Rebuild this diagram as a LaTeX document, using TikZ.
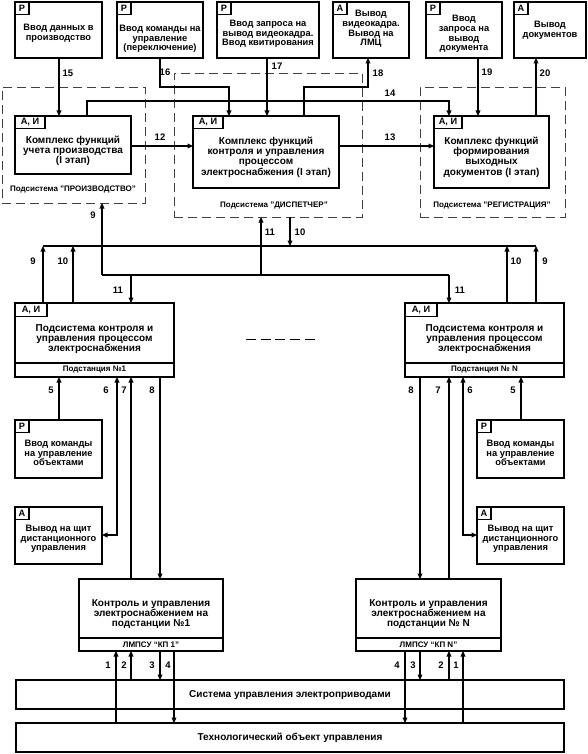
\documentclass[tikz,border=0pt]{standalone}
\usepackage{fontspec}
\setmainfont{Liberation Sans}
\usetikzlibrary{arrows.meta}
\tikzset{
 bx/.style={draw, line width=1.1pt, anchor=north west, inner sep=0pt, outer sep=0pt},
 tg/.style={draw, line width=1.1pt, anchor=north west, inner sep=0pt, outer sep=0pt, minimum height=12.5pt, font=\bfseries\fontsize{9.2}{9.2}\selectfont},
 ttx/.style={align=center, inner sep=0pt, font=\bfseries\fontsize{9.3}{9.6}\selectfont},
 mtx/.style={align=center, inner sep=0pt, font=\bfseries\fontsize{10}{10.3}\selectfont},
 stx/.style={inner sep=0pt, font=\bfseries\fontsize{8}{8}\selectfont},
 num/.style={inner sep=0pt, font=\bfseries\fontsize{9.5}{9.5}\selectfont},
 ln/.style={line width=1.05pt},
 arr/.style={line width=1.05pt, -{Triangle[length=5.5pt,width=4.8pt]}},
 darr/.style={line width=1.05pt, {Triangle[length=5.5pt,width=4.8pt]}-{Triangle[length=5.5pt,width=4.8pt]}},
 dbx/.style={draw, black!75, line width=0.9pt, dash pattern=on 9pt off 5pt, anchor=north west, inner sep=0pt, outer sep=0pt},
}
\newcommand\mkbox[5]{\node[bx, minimum width=#4pt, minimum height=#5pt] (#1) at (#2,#3) {};}
\begin{document}
\begin{tikzpicture}[x=1pt,y=-1pt]
\useasboundingbox (0,0) rectangle (588,754);
% dashed subsystem frames
\node[dbx, minimum width=143pt, minimum height=116pt] (dprod) at (2,87) {};
\node[dbx, minimum width=188pt, minimum height=144pt] (ddisp) at (174,73) {};
\node[dbx, minimum width=145pt, minimum height=130pt] (dreg) at (420,87) {};
% top row
\mkbox{t1}{15}{2}{87}{56}
\mkbox{t2}{117}{2}{86}{56}
\mkbox{t3}{217}{2}{102}{56}
\mkbox{t4}{333}{2}{76}{56}
\mkbox{t5}{426}{2}{76}{56}
\mkbox{t6}{514}{2}{72}{56}
\node[tg, minimum width=14pt] at (t1.north west) {Р};
\node[tg, minimum width=14pt] at (t2.north west) {Р};
\node[tg, minimum width=14pt] at (t3.north west) {Р};
\node[tg, minimum width=14pt] at (t4.north west) {А};
\node[tg, minimum width=14pt] at (t5.north west) {Р};
\node[tg, minimum width=14pt] at (t6.north west) {А};
\node[ttx] (t1x) at (58.5,33.5) {Ввод данных в\\производство};
\node[ttx] (t2x) at (160,39) {Ввод команды на\\управление\\(переключение)};
\node[ttx] (t3x) at (268,34) {Ввод запроса на\\вывод видеокадра.\\Ввод квитирования};
\node[ttx] (t4x) at (371,29) {Вывод\\видеокадра.\\Вывод на\\ЛМЦ};
\node[ttx] (t5x) at (464,34) {Ввод\\запроса на\\вывод\\документа};
\node[ttx] (t6x) at (550,30) {Вывод\\документов};
% main function boxes
\mkbox{prod}{15}{116}{116}{58}
\mkbox{disp}{193}{116}{146}{72}
\mkbox{reg}{434}{116}{115}{72}
\node[tg, minimum width=30pt] at (prod.north west) {А, И};
\node[tg, minimum width=30pt] at (disp.north west) {А, И};
\node[tg, minimum width=28pt] at (reg.north west) {А, И};
\node[mtx] (prodx) at (73,151) {Комплекс функций\\учета производства\\(I этап)};
\node[mtx] (dispx) at (266,157) {Комплекс функций\\контроля и управления\\процессом\\электроснабжения (I этап)};
\node[mtx] (regx) at (491.5,157) {Комплекс функций\\формирования\\выходных\\документов (I этап)};
\node[stx] (dprodl) at (73,190) {Подсистема "ПРОИЗВОДСТВО"};
\node[stx] (ddispl) at (274,206) {Подсистема "ДИСПЕТЧЕР"};
\node[stx] (dregl) at (492,206) {Подсистема "РЕГИСТРАЦИЯ"};
% substation subsystems
\mkbox{s1}{15}{303}{159}{74}
\mkbox{sN}{405}{303}{159}{74}
\node[tg, minimum width=32pt, minimum height=13.5pt] at (s1.north west) {А, И};
\node[tg, minimum width=32pt, minimum height=13.5pt] at (sN.north west) {А, И};
\draw[line width=1.1pt] (s1.west |- 0,363) -- (s1.east |- 0,363);
\draw[line width=1.1pt] (sN.west |- 0,363) -- (sN.east |- 0,363);
\node[mtx] (s1x) at (94.5,339) {Подсистема контроля и\\управления процессом\\электроснабжения};
\node[mtx] (sNx) at (484.5,339) {Подсистема контроля и\\управления процессом\\электроснабжения};
\node[stx] (s1l) at (94.5,370) {Подстанция №1};
\node[stx] (sNl) at (484.5,370) {Подстанция № N};
\draw[line width=1pt, dash pattern=on 10pt off 4.7pt] (246,339) -- (315,339);
% P / A boxes
\mkbox{pl}{15}{420}{87}{58}
\mkbox{al}{15}{507}{87}{57}
\mkbox{pr}{477}{420}{87}{58}
\mkbox{ar}{477}{507}{87}{57}
\node[tg, minimum width=14pt] at (pl.north west) {Р};
\node[tg, minimum width=14pt] at (al.north west) {А};
\node[tg, minimum width=14pt] at (pr.north west) {Р};
\node[tg, minimum width=14pt] at (ar.north west) {А};
\node[ttx] (plx) at (58.5,453) {Ввод команды\\на управление\\объектами};
\node[ttx] (alx) at (58.5,539) {Вывод на щит\\дистанционного\\управления};
\node[ttx] (prx) at (520.5,453) {Ввод команды\\на управление\\объектами};
\node[ttx] (arx) at (520.5,539) {Вывод на щит\\дистанционного\\управления};
% KP boxes
\mkbox{kp1}{79}{579}{144}{72}
\mkbox{kpN}{356}{579}{145}{72}
\draw[line width=1.1pt] (kp1.west |- 0,638) -- (kp1.east |- 0,638);
\draw[line width=1.1pt] (kpN.west |- 0,638) -- (kpN.east |- 0,638);
\node[mtx] (kp1x) at (151,614) {Контроль и управления\\электроснабжением на\\подстанции №1};
\node[mtx] (kpNx) at (428.5,614) {Контроль и управления\\электроснабжением на\\подстанции № N};
\node[stx] (kp1l) at (151,644.5) {ЛМПСУ “КП 1”};
\node[stx] (kpNl) at (428.5,644.5) {ЛМПСУ “КП N”};
% bottom bars
\mkbox{sys}{16}{680}{548}{29}
\mkbox{tech}{16}{723}{548}{29}
\node[mtx] (sysx) at (290,695) {Система управления электроприводами};
\node[mtx] (techx) at (290,738) {Технологический объект управления};
% ---- connectors: top
\draw[arr] (59,0 |- t1.south) -- (59,0 |- prod.north);
\draw[arr] (160,0 |- t2.south) -- (160,87) -- (229,87) -- (229,0 |- disp.north);
\draw[arr] (267,0 |- t3.south) -- (267,0 |- disp.north);
\draw[arr] (304,0 |- disp.north) -- (304,87) -- (368,87) -- (368,0 |- t4.south);
\draw[arr] (87,0 |- prod.north) -- (87,101) -- (449,101) -- (449,0 |- reg.north);
\draw[arr] (478,0 |- t5.south) -- (478,0 |- reg.north);
\draw[arr] (536,0 |- reg.north) -- (536,0 |- t6.south);
\draw[arr] (prod.east |- 0,146) -- (disp.west |- 0,146);
\draw[arr] (disp.east |- 0,146) -- (reg.west |- 0,146);
% ---- bus
\coordinate (busL) at (43,246);
\coordinate (busR) at (536,246);
\coordinate (lowL) at (102,275);
\coordinate (lowR) at (449,275);
\draw[arr] (lowL) -- (lowL |- dprod.south);
\draw[ln] (lowL) -- (lowR);
\draw[arr] (261,0 |- lowL) -- (261,0 |- ddisp.south);
\draw[arr] (290,0 |- ddisp.south) -- (290,0 |- busL);
\draw[ln] (busL) -- (busR);
\draw[arr] (busL |- s1.north) -- (busL);
\draw[arr] (73,0 |- s1.north) -- (73,0 |- busL);
\draw[arr] (507,0 |- sN.north) -- (507,0 |- busL);
\draw[arr] (busR |- sN.north) -- (busR);
\draw[arr] (131,0 |- lowL) -- (131,0 |- s1.north);
\draw[arr] (lowR) -- (lowR |- sN.north);
% ---- lower left
\draw[arr] (59,0 |- pl.north) -- (59,0 |- s1.south);
\draw[darr] (117,0 |- s1.south) -- (117,535) -- (al.east |- 0,535);
\draw[arr] (131,0 |- kp1.north) -- (131,0 |- s1.south);
\draw[arr] (160,0 |- s1.south) -- (160,0 |- kp1.north);
% ---- lower right
\draw[arr] (521,0 |- pr.north) -- (521,0 |- sN.south);
\draw[darr] (463,0 |- sN.south) -- (463,535) -- (ar.west |- 0,535);
\draw[arr] (449,0 |- kpN.north) -- (449,0 |- sN.south);
\draw[arr] (420,0 |- sN.south) -- (420,0 |- kpN.north);
% ---- bottom
\draw[arr] (116,0 |- tech.north) -- (116,0 |- kp1.south);
\draw[arr] (131,0 |- sys.north) -- (131,0 |- kp1.south);
\draw[arr] (160,0 |- kp1.south) -- (160,0 |- sys.north);
\draw[arr] (174,0 |- kp1.south) -- (174,0 |- tech.north);
\draw[arr] (405,0 |- kpN.south) -- (405,0 |- tech.north);
\draw[arr] (420,0 |- kpN.south) -- (420,0 |- sys.north);
\draw[arr] (449,0 |- sys.north) -- (449,0 |- kpN.south);
\draw[arr] (463,0 |- tech.north) -- (463,0 |- kpN.south);
% ---- numbers
\node[num] at (68,73) {15};
\node[num] at (165,72) {16};
\node[num] at (277,66) {17};
\node[num] at (378,73) {18};
\node[num] at (487,72) {19};
\node[num] at (545,73) {20};
\node[num] at (390,93) {14};
\node[num] at (160,137) {12};
\node[num] at (390,137) {13};
\node[num] at (93,215) {9};
\node[num] at (270,232) {11};
\node[num] at (300,232) {10};
\node[num] at (33,261) {9};
\node[num] at (63,261) {10};
\node[num] at (516,261) {10};
\node[num] at (545,261) {9};
\node[num] at (118,290) {11};
\node[num] at (460,290) {11};
\node[num] at (51,390) {5};
\node[num] at (106,390) {6};
\node[num] at (124,390) {7};
\node[num] at (152,390) {8};
\node[num] at (411,390) {8};
\node[num] at (438,390) {7};
\node[num] at (470,390) {6};
\node[num] at (513,390) {5};
\node[num] at (108,665) {1};
\node[num] at (124,665) {2};
\node[num] at (152,665) {3};
\node[num] at (168,665) {4};
\node[num] at (397,665) {4};
\node[num] at (413,665) {3};
\node[num] at (441,665) {2};
\node[num] at (456,665) {1};
\end{tikzpicture}
\end{document}
